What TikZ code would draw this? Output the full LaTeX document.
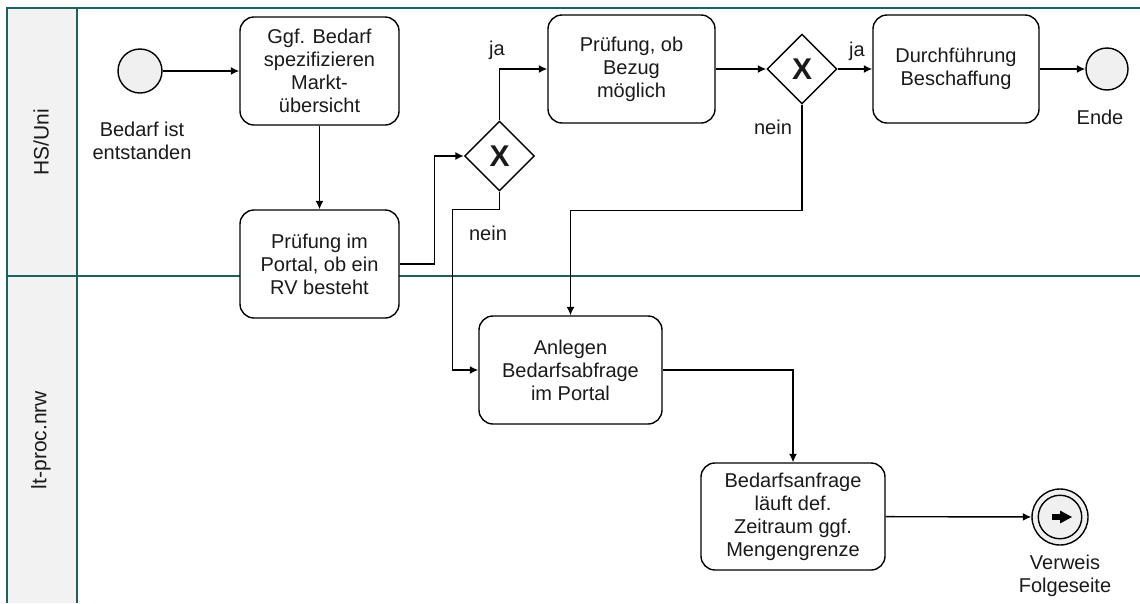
\documentclass[tikz,border=0pt]{standalone}
\usepackage{fontspec}
\setmainfont{Liberation Sans}
\usetikzlibrary{shapes.geometric,arrows.meta}
\definecolor{lanecol}{RGB}{28,96,96}
\definecolor{headfill}{RGB}{242,242,242}
\definecolor{evfill}{RGB}{240,240,240}
\definecolor{txt}{RGB}{26,26,26}
\begin{document}
\begin{tikzpicture}[x=1pt,y=-1pt,
  every node/.style={text=txt},
  base/.style={font=\fontsize{20}{23}\selectfont},
  task/.style={base,draw=black,fill=white,rounded corners=14pt,line width=1.4pt,align=center,inner sep=0pt},
  gate/.style={diamond,draw=black,fill=white,line width=1.4pt,minimum width=70,minimum height=70,inner sep=0pt,font=\fontsize{30}{30}\selectfont\bfseries},
  evt/.style={circle,draw=black,fill=evfill,line width=1.4pt,inner sep=0pt},
  flow/.style={draw=black,line width=1.4pt,-{Latex[length=8.5pt,width=8pt]}},
  lbl/.style={base,align=center},
  lane/.style={draw=lanecol,line width=2.2pt}]
\useasboundingbox (0,0) rectangle (1140,603);
% pool and lanes
\fill[headfill] (7,8) rectangle (77,603);
\draw[lane] (7,603) -- (7,8) -- (1140,8);
\draw[lane] (77,8) -- (77,603);
\draw[lane] (7,276) -- (1140,276);
\node[base,rotate=90,font=\fontsize{21}{23}\selectfont] (l1) at (41,142) {HS/Uni};
\node[base,rotate=90,font=\fontsize{21}{23}\selectfont] (l2) at (41,440) {lt-proc.nrw};
% nodes
\node[evt,minimum size=44] (s) at (140,71) {};
\node[lbl] (sl) at (142,141) {Bedarf ist\\entstanden};
\node[task,minimum width=159,minimum height=108] (t1) at (319.5,71) {Ggf. Bedarf\\spezifizieren\\Markt-\\übersicht};
\node[task,minimum width=159,minimum height=108] (t2) at (319.5,264) {Prüfung im\\Portal, ob ein\\RV besteht};
\node[gate] (g1) at (499.5,156) {X};
\node[task,minimum width=167,minimum height=108] (t3) at (631.5,69) {Prüfung, ob\\Bezug\\möglich};
\node[gate] (g2) at (802,69) {X};
\node[task,minimum width=166,minimum height=108] (t4) at (956,69) {Durchführung\\Beschaffung};
\node[evt,minimum size=42] (e1) at (1107,69) {};
\node[lbl] (el) at (1100,117) {Ende};
\node[task,minimum width=183,minimum height=108] (t5) at (570.5,370) {Anlegen\\Bedarfsabfrage\\im Portal};
\node[task,minimum width=184,minimum height=107] (t6) at (793,516.5) {Bedarfsanfrage\\läuft def.\\Zeitraum ggf.\\Mengengrenze};
\node[evt,minimum size=56] (e2) at (1060,517) {};
\node[evt,minimum size=43.5] (e2i) at (1060,517) {};
\fill[black] (1052,514) rectangle (1061,520);
\fill[black] (1060,510.5) -- (1072,517) -- (1060,523.5) -- cycle;
\node[lbl] (e2l) at (1065,576) {Verweis\\Folgeseite};
% labels
\node[lbl] (ja1) at (497,50) {ja};
\node[lbl] (nein1) at (488,233) {nein};
\node[lbl] (ja2) at (857,51) {ja};
\node[lbl] (nein2) at (773,127) {nein};
% flows
\draw[flow] (s) -- (t1);
\draw[flow] (t1) -- (t2);
\draw[flow] (t2.east) -- ++(35,0) |- (g1.west);
\draw[flow] (g1.north) |- (t3.west);
\draw[flow] (g1.south) -- ++(0,18) -| ([xshift=-26pt]t5.west) -- (t5.west);
\draw[flow] (t3) -- (g2);
\draw[flow] (g2) -- (t4);
\draw[flow] (t4) -- (e1);
\draw[flow] (g2.south) -- ++(0,106) -| (t5.north);
\draw[flow] (t5.east) -| (t6.north);
\draw[flow] (t6) -- (e2);
\end{tikzpicture}
\end{document}
